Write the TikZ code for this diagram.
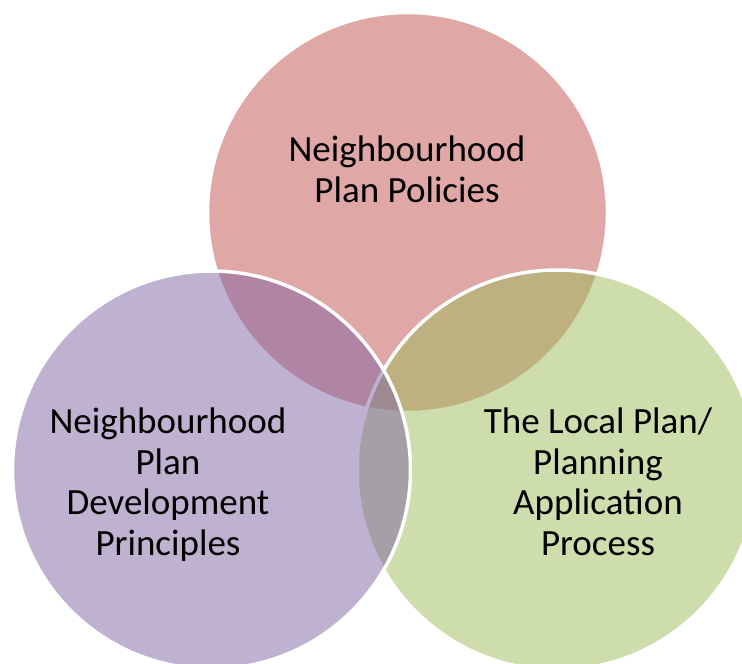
\documentclass[tikz,border=0pt]{standalone}
\usepackage{fontspec}
\setmainfont{Carlito}
\usepackage{tikz}

\definecolor{policyred}{HTML}{C0504D}
\definecolor{principlepurple}{HTML}{8064A2}
\definecolor{processgreen}{HTML}{9BBB59}

\begin{document}
\begin{tikzpicture}[
    x=1pt, y=-1pt,
    ring/.style={draw=white, circle, minimum size=400pt, inner sep=0pt, line width=3.5pt, fill opacity=0.5, draw opacity=1},
    txt/.style={align=center, anchor=base, inner sep=0pt, font=\fontsize{37}{40.5}\selectfont, text=black}
]
\useasboundingbox (0,0) rectangle (742,664);

% Circulos
\node (policies) [ring, fill=policyred] at (407.5,212.5) {};
\node (process) [ring, fill=processgreen] at (557,470) {};
\node (principles) [ring, fill=principlepurple, minimum size=398pt] at (211.5,470) {};

% Textos
\node (policiestxt) [txt] at (407,202) {Neighbourhood\\Plan Policies};
\node (principlestxt) [txt] at (168,555) {Neighbourhood\\Plan\\Development\\Principles};
\node (processtxt) [txt] at (598,555) {The Local Plan/\\Planning\\Application\\Process};

\end{tikzpicture}
\end{document}
